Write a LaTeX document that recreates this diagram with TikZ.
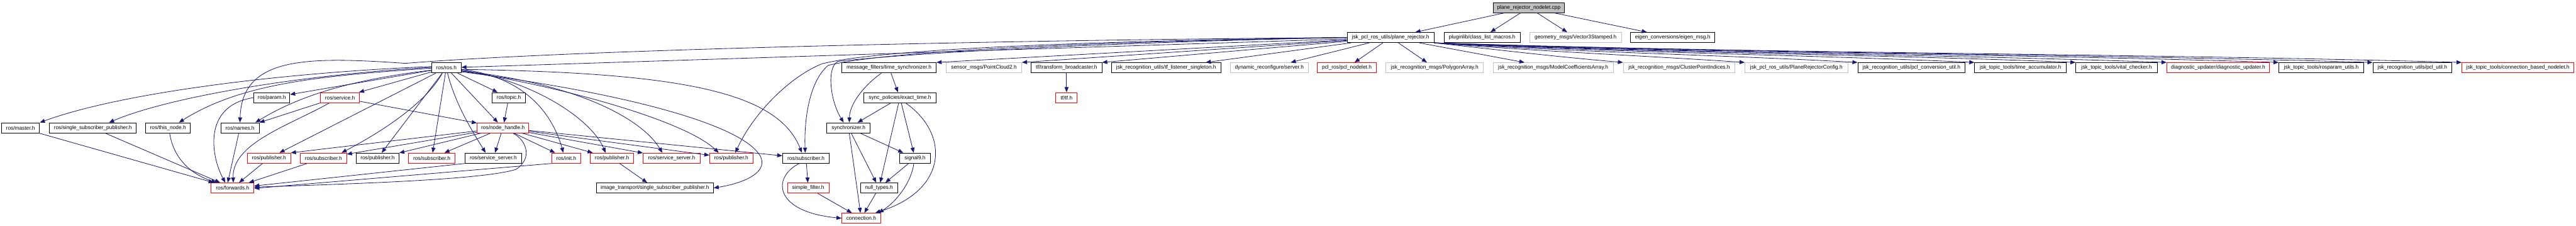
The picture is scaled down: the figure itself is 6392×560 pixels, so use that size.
\documentclass[tikz,border=0pt]{standalone}
\usepackage{fontspec}
\newfontfamily\dxf{Liberation Sans}
\usetikzlibrary{arrows.meta,calc}
\definecolor{edgec}{HTML}{191970}
\definecolor{greyb}{HTML}{BFBFBF}
\definecolor{redb}{HTML}{FF0000}
\tikzset{
  bx/.style={draw, line width=0.42pt, inner sep=0pt, minimum height=0.25cm, font=\dxf\fontsize{3.7}{4.4}\selectfont},
  bk/.style={bx, draw=black},
  rd/.style={bx, draw=redb},
  gy/.style={bx, draw=greyb},
  rootbox/.style={bx, draw=black, fill=greyb},
  e/.style={draw=edgec, line width=0.36pt, -{Triangle[length=3.6pt,width=2.8pt]}},
}
\begin{document}
\begin{tikzpicture}[x=0.01cm,y=-0.01cm]
\fill[white] (0,0) rectangle (6392,560);
\useasboundingbox (0,0) rectangle (6392,560);
% row 0
\node[rootbox, minimum width=1.77cm] (cpp) at (3793.5,19) {plane\_rejector\_nodelet.cpp};
% row 1
\node[bk, minimum width=2.15cm] (prh) at (3450.5,93) {jsk\_pcl\_ros\_utils/plane\_rejector.h};
\node[bk, minimum width=1.89cm] (clm) at (3677.5,93) {pluginlib/class\_list\_macros.h};
\node[gy, minimum width=2.27cm] (v3s) at (3909.5,93) {geometry\_msgs/Vector3Stamped.h};
\node[bk, minimum width=2.09cm] (eig) at (4150.5,93) {eigen\_conversions/eigen\_msg.h};
% row 2
\node[bk, minimum width=0.73cm] (rosh) at (1107.5,168) {ros/ros.h};
\node[bk, minimum width=2.34cm] (mfts) at (2206,168) {message\_filters/time\_synchronizer.h};
\node[gy, minimum width=1.87cm] (pc2) at (2441.5,168) {sensor\_msgs/PointCloud2.h};
\node[bk, minimum width=1.75cm] (tfb) at (2646.5,168) {tf/transform\_broadcaster.h};
\node[bk, minimum width=2.71cm] (tfl) at (2893.5,168) {jsk\_recognition\_utils/tf\_listener\_singleton.h};
\node[gy, minimum width=1.93cm] (drs) at (3149.5,168) {dynamic\_reconfigure/server.h};
\node[rd, minimum width=1.46cm] (pcln) at (3342,168) {pcl\_ros/pcl\_nodelet.h};
\node[gy, minimum width=2.42cm] (poly) at (3560,168) {jsk\_recognition\_msgs/PolygonArray.h};
\node[gy, minimum width=2.98cm] (mca) at (3854,168) {jsk\_recognition\_msgs/ModelCoefficientsArray.h};
\node[gy, minimum width=2.77cm] (cpi) at (4166.5,168) {jsk\_recognition\_msgs/ClusterPointIndices.h};
\node[gy, minimum width=2.55cm] (prc) at (4457.5,168) {jsk\_pcl\_ros\_utils/PlaneRejectorConfig.h};
\node[bk, minimum width=2.66cm] (pcu) at (4743,168) {jsk\_recognition\_utils/pcl\_conversion\_util.h};
\node[bk, minimum width=2.27cm] (ta) at (5013.5,168) {jsk\_topic\_tools/time\_accumulator.h};
\node[bk, minimum width=2.02cm] (vc) at (5252,168) {jsk\_topic\_tools/vital\_checker.h};
\node[rd, minimum width=2.54cm] (du) at (5504,168) {diagnostic\_updater/diagnostic\_updater.h};
\node[bk, minimum width=2.10cm] (rpu) at (5760,168) {jsk\_topic\_tools/rosparam\_utils.h};
\node[bk, minimum width=1.96cm] (pu) at (5986,168) {jsk\_recognition\_utils/pcl\_util.h};
\node[rd, minimum width=2.78cm] (cbn) at (6248,168) {jsk\_topic\_tools/connection\_based\_nodelet.h};
% row 3
\node[bk, minimum width=0.89cm] (param) at (674.5,242) {ros/param.h};
\node[rd, minimum width=0.97cm] (serv) at (843.5,242) {ros/service.h};
\node[bk, minimum width=0.83cm] (topic) at (1262.5,242) {ros/topic.h};
\node[bk, minimum width=1.80cm] (ext) at (2233,242) {sync\_policies/exact\_time.h};
\node[rd, minimum width=0.53cm] (tf) at (2646.5,242) {tf/tf.h};
% row 4
\node[bk, minimum width=0.94cm] (master) at (51,317) {ros/master.h};
\node[bk, minimum width=2.15cm] (ssp) at (230.5,317) {ros/single\_subscriber\_publisher.h};
\node[bk, minimum width=1.10cm] (thisn) at (417,317) {ros/this\_node.h};
\node[bk, minimum width=0.95cm] (names) at (595.5,317) {ros/names.h};
\node[rd, minimum width=1.28cm] (nh) at (1248,317) {ros/node\_handle.h};
\node[bk, minimum width=1.07cm] (sync) at (2105.5,317) {synchronizer.h};
% row 5
\node[rd, minimum width=1.07cm] (pubA) at (667.5,392) {ros/publisher.h};
\node[rd, minimum width=1.15cm] (subA) at (802.5,392) {ros/subscriber.h};
\node[bk, minimum width=1.06cm] (pubB) at (937,392) {ros/publisher.h};
\node[rd, minimum width=1.15cm] (subB) at (1071.5,392) {ros/subscriber.h};
\node[bk, minimum width=1.40cm] (ssB) at (1224,392) {ros/service\_server.h};
\node[rd, minimum width=0.72cm] (init) at (1405,392) {ros/init.h};
\node[rd, minimum width=1.07cm] (pubC) at (1518.5,392) {ros/publisher.h};
\node[rd, minimum width=1.41cm] (ssC) at (1666.5,392) {ros/service\_server.h};
\node[rd, minimum width=1.07cm] (pubD) at (1814.5,392) {ros/publisher.h};
\node[bk, minimum width=1.16cm] (subD) at (2000,392) {ros/subscriber.h};
\node[bk, minimum width=0.75cm] (sig9) at (2270.5,392) {signal9.h};
% row 6
\node[rd, minimum width=1.06cm] (fwd) at (577,466) {ros/forwards.h};
\node[bk, minimum width=2.90cm] (itssp) at (1625,466) {image\_transport/single\_subscriber\_publisher.h};
\node[rd, minimum width=1.03cm] (sf) at (2005.5,466) {simple\_filter.h};
\node[bk, minimum width=0.92cm] (nt) at (2181,466) {null\_types.h};
% row 7
\node[rd, minimum width=0.96cm] (conn) at (2137,541) {connection.h};

% ---- edges: root
\draw[e] (cpp) -- (prh);
\draw[e] (cpp) -- (clm);
\draw[e] (cpp) -- (v3s);
\draw[e] (cpp) -- (eig);
% plane_rejector.h straight
\draw[e] (prh) -- (pcln);
\draw[e] (prh) -- (poly);
\draw[e] (prh) -- (mca);
\draw[e] (prh) -- (drs);
\draw[e] (prh) -- (tfl);
\draw[e] (prh) -- (tfb.north east);
\draw[e] (prh) -- (pc2.north east);
\draw[e] (prh) -- (mfts.north east);
\draw[e] (prh) -- (rosh);
% plane_rejector.h to the right
\draw[e] (prh.south east) .. controls +(165,18) and +(-165,-14) .. (cpi.north west);
\draw[e] (prh.south east) .. controls +(270,22) and +(-270,-18) .. (prc.north west);
\draw[e] (prh.south east) .. controls +(368,24) and +(-368,-20) .. (pcu.north west);
\draw[e] (prh.south east) .. controls +(470,25) and +(-470,-21) .. (ta.north west);
\draw[e] (prh.south east) .. controls +(557,26) and +(-557,-22) .. (vc.north west);
\draw[e] (prh.south east) .. controls +(637,26) and +(-637,-22) .. (du.north west);
\draw[e] (prh.south east) .. controls +(734,27) and +(-734,-23) .. (rpu.north west);
\draw[e] (prh.south east) .. controls +(815,27) and +(-815,-23) .. (pu.north west);
\draw[e] (prh.south east) .. controls +(893,28) and +(-893,-24) .. (cbn.north west);
% plane_rejector.h long curves to the left
\draw[e] (prh.west) .. controls (2400,100) and (1400,125) .. (1006,157) .. controls (760,140) and (600,140) .. (names.north);
\draw[e] (prh.west) .. controls (2800,100) and (2200,118) .. (2040,158) .. controls (1960,190) and (1870,280) .. ($(pubD.north)+(10,0)$);
\draw[e] (prh.west) .. controls (2800,102) and (2220,122) .. (2055,162) .. controls (2010,200) and (1995,290) .. ($(subD.north)+(-2,0)$);
\draw[e] (prh.west) .. controls (2800,104) and (2300,128) .. (2080,152) .. controls (2050,165) and (2060,250) .. ($(sync.north)+(-12,0)$);
% ros/ros.h
\draw[e] ($(rosh.west)+(0,-3)$) .. controls (700,180) and (300,230) .. (master.north east);
\draw[e] ($(rosh.west)+(0,-1)$) .. controls (750,185) and (420,240) .. ($(ssp.north)+(40,0)$);
\draw[e] ($(rosh.west)+(0,1)$) .. controls (800,188) and (600,205) .. ($(thisn.north)+(27,0)$);
\draw[e] (rosh) -- (param);
\draw[e] ($(rosh.west)+(0,6)$) .. controls (850,200) and (730,245) .. ($(names.north east)+(-10,0)$);
\draw[e] (rosh) -- (serv);
\draw[e] (rosh) -- (topic);
\draw[e] (rosh) -- (nh);
\draw[e] (rosh) -- (pubA);
\draw[e] ($(rosh.south)+(-10,0)$) .. controls (1060,250) and (960,320) .. ($(subA.north)+(45,0)$);
\draw[e] (rosh) -- (pubB);
\draw[e] (rosh) -- (subB);
\draw[e] ($(rosh.south)+(3,0)$) .. controls (1130,260) and (1175,330) .. ($(ssB.north)+(-19,0)$);
\draw[e] ($(rosh.east)+(0,4)$) .. controls (1300,190) and (1370,280) .. ($(init.north)+(-7,0)$);
\draw[e] ($(rosh.east)+(0,6)$) .. controls (1330,200) and (1470,300) .. ($(pubC.north)+(-16,0)$);
\draw[e] ($(rosh.east)+(0,8)$) .. controls (1420,205) and (1590,290) .. ($(ssC.north)+(-23,0)$);
\draw[e] ($(rosh.east)+(0,8)$) .. controls (1400,215) and (1700,300) .. ($(pubD.north)+(-31,0)$);
\draw[e] ($(rosh.east)+(0,4)$) .. controls (1700,180) and (1930,230) .. ($(subD.north)+(-10,0)$);
\draw[e] ($(rosh.east)+(0,10)$) .. controls (1550,230) and (1850,310) .. (1888,390) .. controls (1905,430) and (1840,455) .. (itssp.east);
% service / topic / param
\draw[e] (serv) -- (nh);
\draw[e] (topic) -- (nh);
\draw[e] (serv.south west) -- (names.north east);
\draw[e] ($(serv.south west)+(23,0)$) .. controls (720,310) and (575,355) .. ($(fwd.north)+(2,0)$);
\draw[e] (param.west) .. controls (500,262) and (525,390) .. ($(fwd.north)+(-18,0)$);
% to forwards.h
\draw[e] (names) -- ($(fwd.north)+(-12,0)$);
\draw[e] ($(thisn.south)+(4,0)$) .. controls (430,390) and (470,430) .. ($(fwd.north)+(-40,0)$);
\draw[e] (ssp) -- (fwd);
\draw[e] (master) -- (fwd);
\draw[e] (pubA) -- (fwd);
\draw[e] (subA) -- (fwd);
% node_handle.h
\draw[e] (nh) -- (pubA.north east);
\draw[e] (nh) -- (subA);
\draw[e] (nh) -- (pubB);
\draw[e] (nh) -- (subB);
\draw[e] (nh) -- (ssB);
\draw[e] (nh) -- (init);
\draw[e] (nh) -- (pubC);
\draw[e] (nh) -- (ssC);
\draw[e] (nh) -- (pubD);
\draw[e] (nh) -- (subD);
\draw[e] ($(nh.south)+(25,0)$) .. controls (1310,350) and (1320,395) .. (1280,420) .. controls (1200,445) and (900,455) .. ($(fwd.east)+(0,-2)$);
\draw[e] (ssB.south west) -- ($(fwd.east)+(0,-5)$);
\draw[e] (init.south west) -- ($(fwd.east)+(0,1)$);
\draw[e] (pubC) -- (itssp);
% message_filters
\draw[e] ($(mfts.south)+(-19,0)$) .. controls (2140,215) and (2108,260) .. ($(sync.north)+(2,0)$);
\draw[e] (mfts) -- (ext);
\draw[e] (ext) -- (sync);
\draw[e] (ext) -- (nt);
\draw[e] (ext) -- (sig9);
\draw[e] ($(ext.south)+(14,0)$) .. controls (2355,330) and (2355,470) .. ($(conn.north east)+(-14,0)$);
\draw[e] (sync) -- (conn);
\draw[e] (sync) -- (nt);
\draw[e] (sync) -- (sig9);
\draw[e] (sig9) -- (nt);
\draw[e] ($(sig9.south)+(-3,0)$) .. controls (2262,450) and (2225,500) .. ($(conn.north east)+(-6,0)$);
\draw[e] (nt) -- (conn);
\draw[e] (subD) -- (sf);
\draw[e] ($(subD.south)+(-17,0)$) .. controls (1915,440) and (1920,525) .. (conn.west);
\draw[e] (sf) -- (conn);
\draw[e] (tfb) -- (tf);
\end{tikzpicture}
\end{document}
